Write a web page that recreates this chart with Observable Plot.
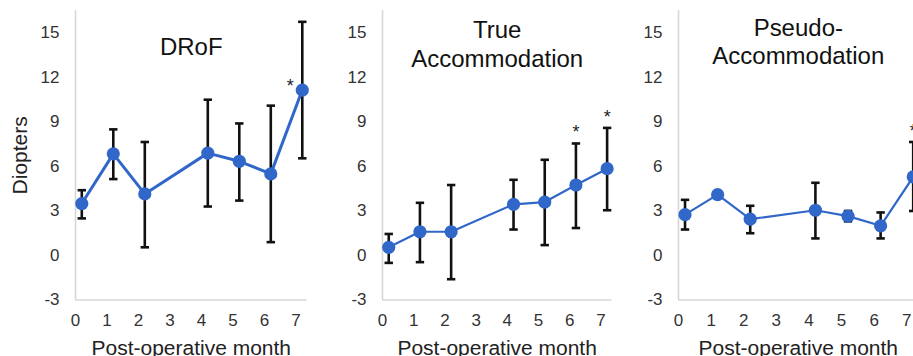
<!DOCTYPE html>
<html>
<head>
<meta charset="utf-8">
<script src="https://cdn.jsdelivr.net/npm/d3@7"></script>
<script src="https://cdn.jsdelivr.net/npm/@observablehq/plot@0.6"></script>
<style>
  html, body { margin: 0; padding: 0; background: #fff; }
  #chart { position: relative; width: 913px; height: 356px; overflow: hidden; background: #fff; }
  #chart svg { position: absolute; top: 0; background: transparent; }
</style>
</head>
<body>
<div id="chart"></div>
<script>
// ---- data ----
const months = [0.2, 1.2, 2.2, 4.2, 5.2, 6.2, 7.2];
const monthTicks = [0, 1, 2, 3, 4, 5, 6, 7];
const dioptreTicks = [-3, 0, 3, 6, 9, 12, 15];

const panelTitles = ["DRoF", "True\nAccommodation", "Pseudo-\nAccommodation"];
const yLabel = "Diopters";
const xLabel = "Post-operative month";

const drofMean = [3.5, 6.85, 4.15, 6.9, 6.35, 5.5, 11.15];
const drofLo   = [2.5, 5.15, 0.55, 3.3, 3.7, 0.9, 6.55];
const drofHi   = [4.4, 8.5, 7.65, 10.5, 8.9, 10.1, 15.75];
const drofSig  = [0, 0, 0, 0, 0, 0, 1];

const trueMean = [0.55, 1.6, 1.6, 3.45, 3.6, 4.75, 5.85];
const trueLo   = [-0.5, -0.45, -1.6, 1.75, 0.7, 1.85, 3.05];
const trueHi   = [1.45, 3.55, 4.75, 5.1, 6.45, 7.55, 8.6];
const trueSig  = [0, 0, 0, 0, 0, 1, 1];

const pseudoMean = [2.75, 4.1, 2.45, 3.05, 2.65, 2.0, 5.3];
const pseudoLo   = [1.75, 4.1, 1.5, 1.15, 2.3, 1.15, 3.0];
const pseudoHi   = [3.75, 4.1, 3.35, 4.9, 3.0, 2.9, 7.65];
const pseudoSig  = [0, 0, 0, 0, 0, 0, 1];

// ---- build rows ----
function rows(mean, lo, hi, sig) {
  return months.map((m, i) => ({ month: m, mean: mean[i], lo: lo[i], hi: hi[i], sig: sig[i] }));
}
const series = [
  rows(drofMean, drofLo, drofHi, drofSig),
  rows(trueMean, trueLo, trueHi, trueSig),
  rows(pseudoMean, pseudoLo, pseudoHi, pseudoSig)
];

// ---- layout / styling ----
const FONT = "'Liberation Sans', Arial, Helvetica, sans-serif";
const BLUE = "#3067c9";
const AXIS = "#d6d6d6";
const H = 356, MT = 10.2, MB = 56.5, ML = 75;
const panels = [
  { axisX: 75,  ppu: 31.5, lineW: 3.0, titleDy: 24,  titleLH: 1.2,  star: "side", showYLabel: true },
  { axisX: 382, ppu: 31.2, lineW: 2.2, titleDy: 7,   titleLH: 1.2,  star: "top",  showYLabel: false },
  { axisX: 678, ppu: 32.6, lineW: 2.2, titleDy: 6,   titleLH: 1.15, star: "top",  showYLabel: false }
];
const xMax = 7.35;

const capSymbol = {
  draw(context) { context.moveTo(-4.2, 0); context.lineTo(4.2, 0); }
};

const chart = document.getElementById("chart");

panels.forEach((p, k) => {
  const data = series[k];
  const W = ML + xMax * p.ppu + 6;
  const sigData = data.filter(d => d.sig);
  const marks = [
    Plot.ruleY([-3], { stroke: AXIS, strokeWidth: 1.6 }),
    Plot.ruleX([0], { stroke: AXIS, strokeWidth: 1.6 }),
    Plot.axisY({ ticks: dioptreTicks, tickSize: 0, tickPadding: 16, fontSize: 17, label: null, tickFormat: d => String(d), fill: "#333" }),
    Plot.axisX({ ticks: monthTicks, tickSize: 0, tickPadding: 14, fontSize: 17, label: null, tickFormat: d => String(d), fill: "#333" }),
    Plot.ruleX(data, { x: "month", y1: "lo", y2: "hi", stroke: "#111", strokeWidth: 2.6 }),
    Plot.dot(data, { x: "month", y: "lo", symbol: capSymbol, r: 4, fill: "none", stroke: "#111", strokeWidth: 2.6 }),
    Plot.dot(data, { x: "month", y: "hi", symbol: capSymbol, r: 4, fill: "none", stroke: "#111", strokeWidth: 2.6 }),
    Plot.line(data, { x: "month", y: "mean", stroke: BLUE, strokeWidth: p.lineW }),
    Plot.dot(data, { x: "month", y: "mean", r: 6.6, fill: BLUE, stroke: "none" }),
    p.star === "side"
      ? Plot.text(sigData, { x: "month", y: "mean", text: () => "*", fontSize: 18, dx: -12, dy: -4, fill: "#222" })
      : Plot.text(sigData, { x: "month", y: "hi", text: () => "*", fontSize: 18, dy: -11, fill: "#222" }),
    Plot.text([panelTitles[k]], { frameAnchor: "top", text: d => d, lineAnchor: "top", dy: p.titleDy, fontSize: 24, lineHeight: p.titleLH, fill: "#111" }),
    Plot.text([xLabel], { frameAnchor: "bottom", text: d => d, lineAnchor: "bottom", dy: 55.5, fontSize: 21, fill: "#222" })
  ];
  if (p.showYLabel) {
    marks.push(Plot.text([yLabel], { frameAnchor: "left", text: d => d, rotate: -90, textAnchor: "middle", dx: -55, fontSize: 21, fill: "#222" }));
  }
  const svg = Plot.plot({
    width: W,
    height: H,
    marginLeft: ML,
    marginRight: W - ML - xMax * p.ppu,
    marginTop: MT,
    marginBottom: MB,
    x: { domain: [0, xMax] },
    y: { domain: [-3, 16.5] },
    style: { fontFamily: FONT, background: "transparent", overflow: "visible" },
    marks
  });
  svg.style.left = (p.axisX - ML) + "px";
  chart.appendChild(svg);
});
</script>
</body>
</html>
